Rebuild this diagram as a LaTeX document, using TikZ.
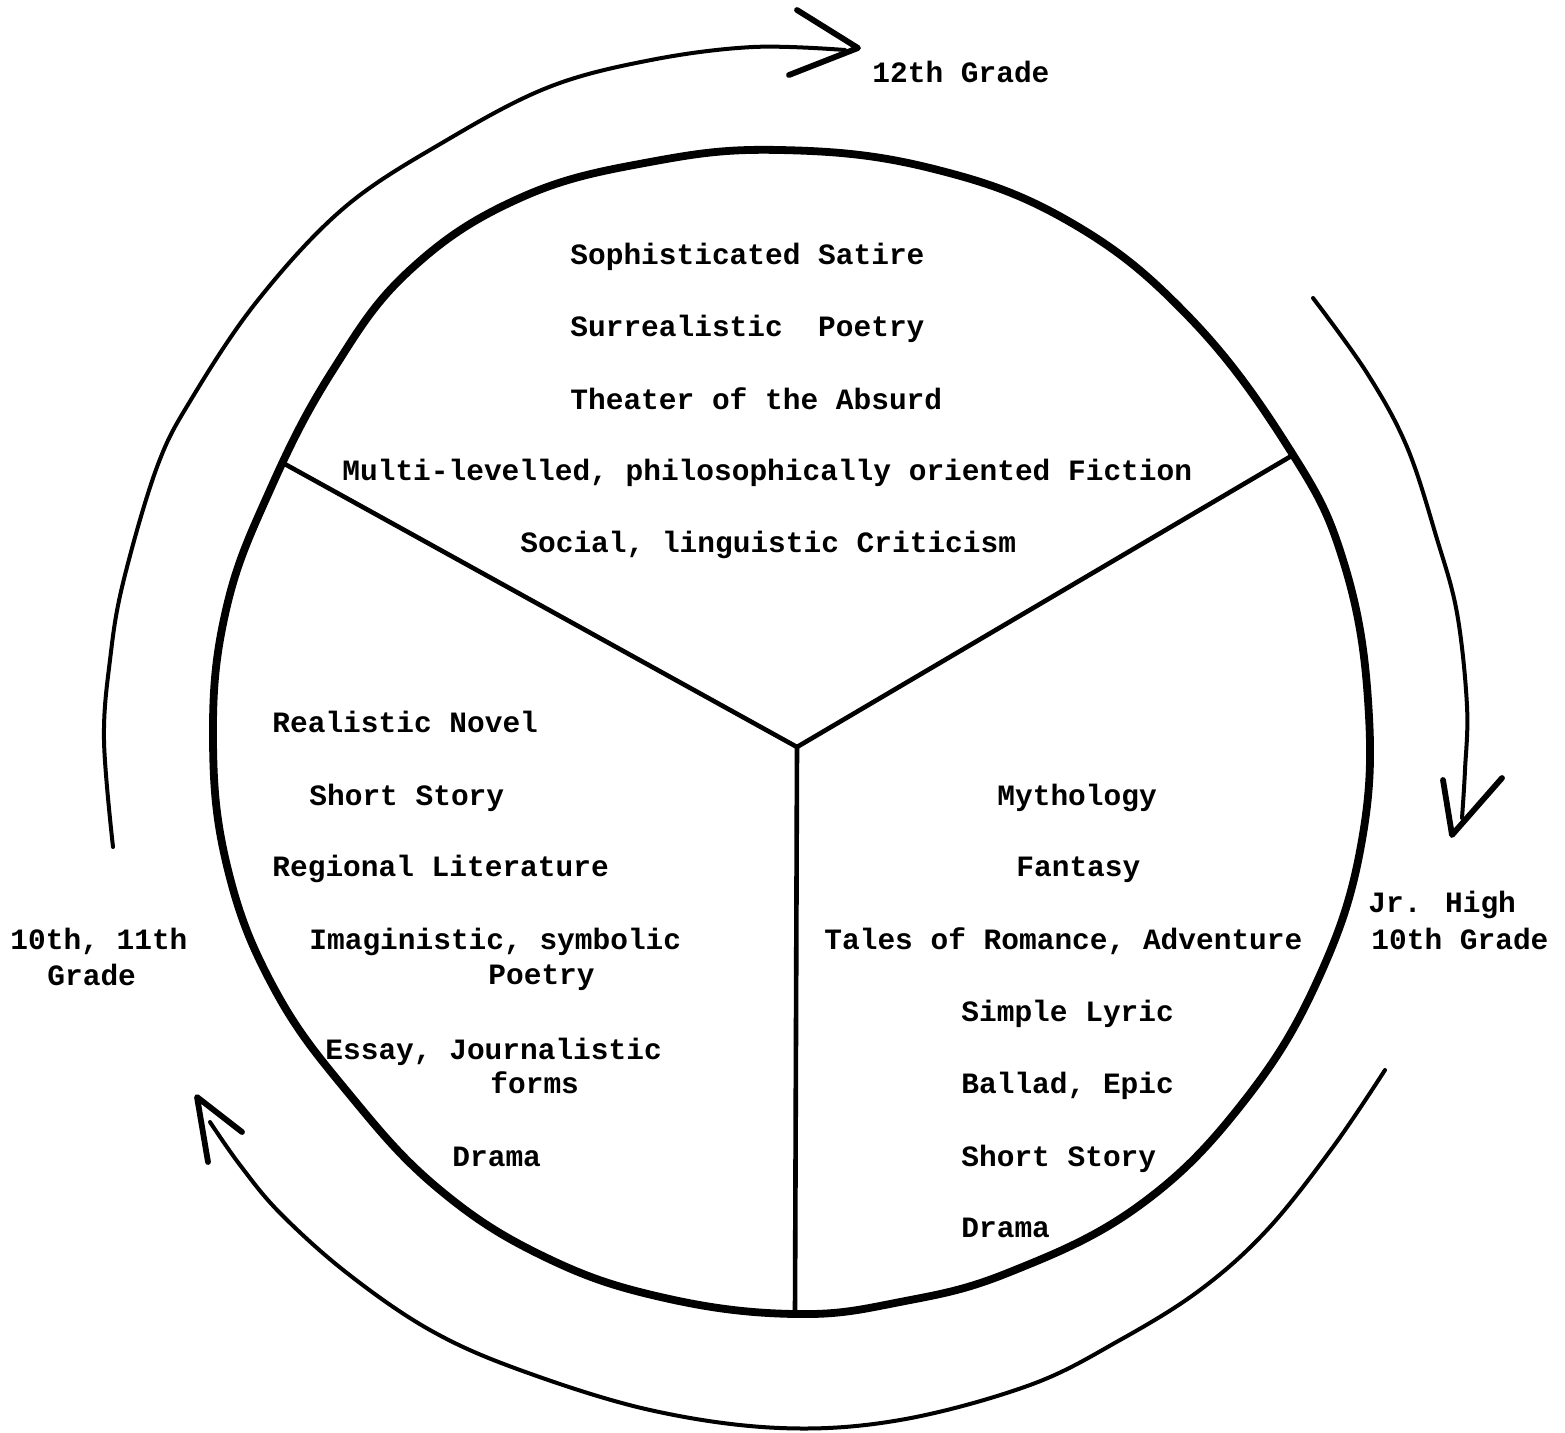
\documentclass[tikz,border=0pt]{standalone}
\usepackage{fontspec}
\newfontfamily\typewriter{Liberation Mono}
\tikzset{
  rim/.style={line width=3.9pt, line join=round},
  spoke/.style={line width=2.3pt, line cap=round},
  cyclearrow/.style={line width=2pt, line cap=round},
  arrowtip/.style={line width=2.9pt, line cap=round, line join=round},
  txt/.style={font=\typewriter\bfseries\fontsize{14.75}{17}\selectfont, inner sep=0pt, anchor=base west},
}
\begin{document}
\begin{tikzpicture}[x=0.5pt,y=-0.5pt]
\useasboundingbox (0,0) rectangle (1565,1432);

% the wheel
\draw[rim] plot[smooth cycle, tension=0.68] coordinates {
  (780,150) (930,168) (1070,222) (1190,318) (1290,450) (1343,560)
  (1368,700) (1362,840) (1320,975) (1245,1100) (1140,1205) (1010,1272)
  (900,1302) (795,1314) (665,1298) (547,1258) (440,1190) (350,1095)
  (275,990) (228,870) (213,740) (226,610) (270,490) (333,370)
  (410,270) (520,198) (650,162)};

% three sectors
\coordinate (hub) at (797,747);
\coordinate (ul) at (283,463);
\coordinate (ur) at (1293,455);
\coordinate (bot) at (795,1313);
\draw[spoke] (hub) -- (ul);
\draw[spoke] (hub) -- (ur);
\draw[spoke] (hub) -- (bot);

% sector: 12th grade
\node[txt] (t1) at (570,264) {Sophisticated Satire};
\node[txt] (t2) at (570,336) {Surrealistic\ \ Poetry};
\node[txt] (t3) at (570,409) {Theater of the Absurd};
\node[txt] (t4) at (342,480) {Multi-levelled, philosophically oriented Fiction};
\node[txt] (t5) at (520,552) {Social, linguistic Criticism};

% sector: 10th, 11th grade
\node[txt] (l1) at (272,732) {Realistic Novel};
\node[txt] (l2) at (309,805) {Short Story};
\node[txt] (l3) at (272,876) {Regional Literature};
\node[txt] (l4) at (309,949) {Imaginistic, symbolic};
\node[txt] (l4b) at (488,984) {Poetry};
\node[txt] (l5) at (325,1059) {Essay, Journalistic};
\node[txt] (l5b) at (490,1093) {forms};
\node[txt] (l6) at (452,1166) {Drama};

% sector: Jr. High, 10th grade
\node[txt] (r1) at (997,805) {Mythology};
\node[txt] (r2) at (1016,876) {Fantasy};
\node[txt] (r3) at (824,949) {Tales of Romance, Adventure};
\node[txt] (r4) at (961,1021) {Simple Lyric};
\node[txt] (r5) at (961,1093) {Ballad, Epic};
\node[txt] (r6) at (961,1166) {Short Story};
\node[txt] (r7) at (961,1237) {Drama};

% grade labels
\node[txt] (g12) at (872,82) {12th Grade};
\node[txt] (gjr) at (1368,912) {Jr. High};
\node[txt] (gjr2) at (1371,949) {10th Grade};
\node[txt] (g10) at (10,949) {10th, 11th};
\node[txt] (g10b) at (47,985) {Grade};

% arrow: 10th/11th grade -> 12th grade
\coordinate (aStart) at (113,847);
\coordinate (aTip) at (858,48);
\draw[cyclearrow] plot[smooth, tension=0.6] coordinates {
  (aStart) (104,740) (110,660) (123,583) (157,467) (192,398) (258,300)
  (345,207) (447,140) (549,87) (651,60) (753,47) (845,50)};
\draw[arrowtip] (797,10) -- (aTip) -- (789,75);

% arrow: 12th grade -> Jr. High
\coordinate (bStart) at (1313,298);
\coordinate (bTip) at (1452,835);
\draw[cyclearrow] plot[smooth, tension=0.6] coordinates {
  (bStart) (1367,373) (1407,447) (1437,539) (1457,613) (1467,706)
  (1465,770) (1462,818)};
\draw[arrowtip] (1443,780) -- (bTip) -- (1502,778);

% arrow: Jr. High -> 10th/11th grade
\coordinate (cStart) at (1385,1070);
\coordinate (cTip) at (197,1097);
\draw[cyclearrow] plot[smooth, tension=0.6] coordinates {
  (cStart) (1333,1147) (1267,1230) (1200,1290) (1120,1340) (1030,1385)
  (900,1420) (780,1428) (650,1410) (520,1370) (430,1330) (347,1273)
  (280,1213) (240,1165) (210,1122)};
\draw[arrowtip] (208,1162) -- (cTip) -- (242,1132);
\end{tikzpicture}
\end{document}
